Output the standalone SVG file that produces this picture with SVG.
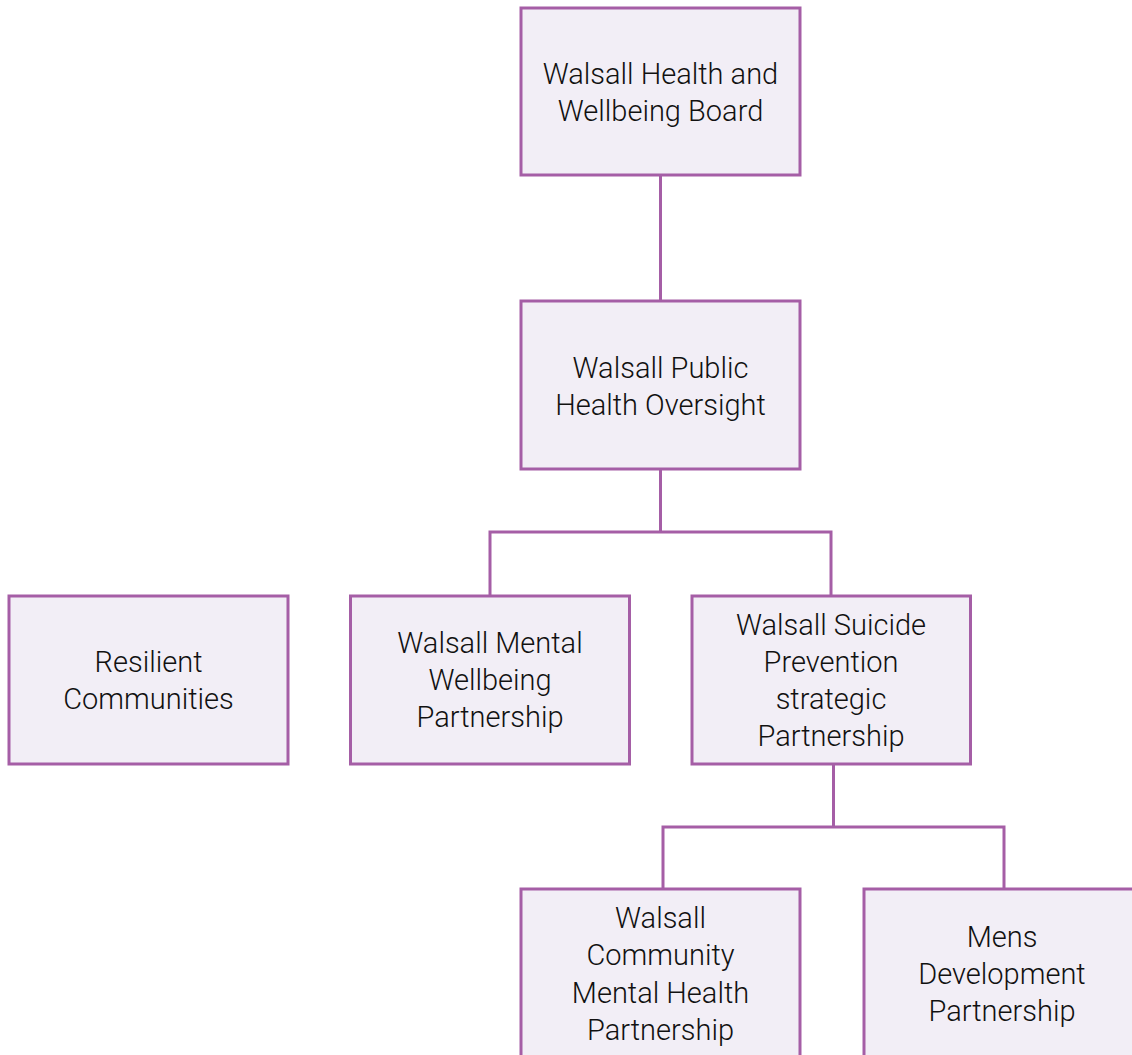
<svg xmlns="http://www.w3.org/2000/svg" width="1132" height="1055" viewBox="0 0 1132 1055">
<style>
.box{fill:#f2eef6;stroke:#a55ea6;stroke-width:3}
.conn{fill:none;stroke:#a55ea6;stroke-width:3}
text{font-family:Roboto,"Liberation Sans",Arial,sans-serif;font-weight:300;font-size:29px;fill:#111;text-anchor:middle}
</style>
<rect width="1132" height="1055" fill="#fff"/>
<g id="connectors">
<path class="conn" d="M660.5 175V301"/>
<path class="conn" d="M660.5 469V532M490 596V532H831V596"/>
<path class="conn" d="M833.5 764V827M663 889V827H1004V889"/>
</g>
<g id="n1"><rect class="box" x="521" y="8" width="279" height="167"/><text x="660.5" y="84">Walsall Health and</text><text x="660.5" y="121">Wellbeing Board</text></g>
<g id="n2"><rect class="box" x="521" y="301" width="279" height="168"/><text x="660.5" y="378">Walsall Public</text><text x="660.5" y="415">Health Oversight</text></g>
<g id="n3"><rect class="box" x="9" y="596" width="279" height="168"/><text x="148.5" y="672">Resilient</text><text x="148.5" y="709">Communities</text></g>
<g id="n4"><rect class="box" x="350.5" y="596" width="279" height="168"/><text x="490" y="653">Walsall Mental</text><text x="490" y="690">Wellbeing</text><text x="490" y="727">Partnership</text></g>
<g id="n5"><rect class="box" x="692" y="596" width="278.5" height="168"/><text x="831" y="635">Walsall Suicide</text><text x="831" y="672">Prevention</text><text x="831" y="709">strategic</text><text x="831" y="746">Partnership</text></g>
<g id="n6"><rect class="box" x="521" y="889" width="279" height="180"/><text x="660.5" y="928">Walsall</text><text x="660.5" y="965">Community</text><text x="660.5" y="1003">Mental Health</text><text x="660.5" y="1040">Partnership</text></g>
<g id="n7"><rect class="box" x="864" y="889" width="279" height="180"/><text x="1002" y="947">Mens</text><text x="1002" y="984">Development</text><text x="1002" y="1021">Partnership</text></g>
</svg>
